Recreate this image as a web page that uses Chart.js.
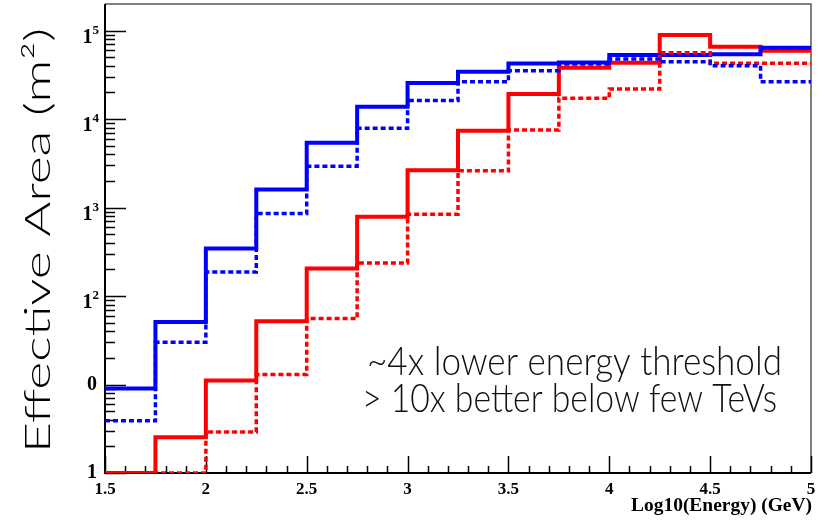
<!DOCTYPE html>
<html>
<head>
<meta charset="utf-8">
<script src="https://cdn.jsdelivr.net/npm/chart.js@4.4.0/dist/chart.umd.min.js"></script>
<style>
  html, body { margin: 0; padding: 0; background: #fff; }
  #wrap { width: 827px; height: 526px; }
</style>
</head>
<body>
<div id="wrap"><canvas id="effArea" width="827" height="526"></canvas></div>
<script>
// histogram bins (lower edge, log10 E/GeV), all 0.25 wide
const binEdges = [1.5, 1.75, 2.0, 2.25, 2.5, 2.75, 3.0, 3.25, 3.5, 3.75, 4.0, 4.25, 4.5, 4.75];
const binWidth = 0.25;

// effective area in m^2
const blueSolid  = [9.0, 51, 345, 1600, 5400, 13800, 25600, 34400, 42500, 43700, 53000, 53000, 54000, 64000];
const blueDotted = [3.9, 30, 187, 860, 2940, 7860, 16200, 26500, 35300, 42000, 47800, 44600, 40200, 26500];
const redSolid   = [1, 2.54, 11.1, 52, 205, 790, 2650, 7400, 19200, 38000, 43400, 89400, 65900, 59400];
const redDotted  = [1, 1, 2.9, 13, 55.6, 237, 843, 2600, 7520, 17200, 21900, 56400, 42800, 42800];

const xTicks = [1.5, 2, 2.5, 3, 3.5, 4, 4.5, 5];
const xTickLabels = ['1.5', '2', '2.5', '3', '3.5', '4', '4.5', '5'];
const yTicks = [1, 10, 100, 1000, 10000, 100000];
const yTickLabels = ['1', '0', '1^2', '1^3', '1^4', '1^5'];

const xTitle = 'Log10(Energy) (GeV)';
const yTitle = 'Effective Area (m\u00b2)';
const noteLines = ['~4x lower energy threshold', '> 10x better below few TeVs'];

// bins -> step points, closing the last bin at its upper edge
function steps(vals){
  const pts = binEdges.map((x, i) => ({ x: x, y: vals[i] }));
  pts.push({ x: binEdges[binEdges.length - 1] + binWidth, y: vals[vals.length - 1] });
  return pts;
}

function hist(vals, color, dotted){
  return {
    data: steps(vals),
    borderColor: color,
    borderWidth: dotted ? 3.5 : 4,
    borderDash: dotted ? [5, 3] : [],
    borderCapStyle: 'butt',
    borderJoinStyle: 'miter',
    stepped: 'before',   // hold bin value until next edge, then jump
    pointRadius: 0,
    fill: false
  };
}

// draws text squeezed/stretched along its baseline to a given length
function fitText(c, text, x, y, width, font, align){
  c.save();
  c.font = font;
  const w = c.measureText(text).width;
  c.translate(x, y);
  c.scale(width / w, 1);
  c.textAlign = align;
  c.textBaseline = 'alphabetic';
  c.fillText(text, 0, 0);
  c.restore();
}

// ROOT-style frame: inward ticks, serif labels
const rootAxes = {
  id: 'rootAxes',
  beforeDatasetsDraw(chart){
    const c = chart.ctx, a = chart.chartArea;
    const xs = chart.scales.x, ys = chart.scales.y;
    c.save();
    // top / right frame
    c.strokeStyle = '#555';
    c.lineWidth = 1.5;
    c.beginPath();
    c.moveTo(a.left, a.top); c.lineTo(a.right, a.top); c.lineTo(a.right, a.bottom);
    c.stroke();

    c.strokeStyle = '#000';
    c.lineWidth = 2;
    c.beginPath();
    c.moveTo(a.left, a.top); c.lineTo(a.left, a.bottom); c.lineTo(a.right, a.bottom);
    c.stroke();

    // x ticks every 0.1, long at 0.5
    c.lineWidth = 1.5;
    c.beginPath();
    for(let k = 15; k <= 50; k++){
      const px = Math.round(xs.getPixelForValue(k / 10)) + 0.5;
      const len = k % 5 === 0 ? 17 : 7;
      c.moveTo(px, a.bottom); c.lineTo(px, a.bottom - len);
    }
    c.stroke();

    // y ticks: decades long, 2..9 short
    c.beginPath();
    yTicks.forEach(d => {
      for(let m = 1; m <= 9; m++){
        const v = m * d;
        if(v >= ys.max) break;
        const py = Math.round(ys.getPixelForValue(v)) + 0.5;
        c.moveTo(a.left, py); c.lineTo(a.left + (m === 1 ? 21 : 10), py);
      }
    });
    c.stroke();

    // tick labels
    c.fillStyle = '#000';
    c.textAlign = 'center';
    c.textBaseline = 'alphabetic';
    c.font = 'bold 17px "Liberation Serif"';
    xTicks.forEach((v, i) => c.fillText(xTickLabels[i], xs.getPixelForValue(v), 494));

    yTicks.forEach((v, i) => {
      const py = ys.getPixelForValue(v);
      const parts = yTickLabels[i].split('^');
      c.textAlign = 'right';
      if(parts.length > 1){
        c.font = 'bold 13px "Liberation Serif"';
        c.fillText(parts[1], 99, py + 3);
        const ew = c.measureText(parts[1]).width;
        c.font = 'bold 20px "Liberation Serif"';
        c.fillText(parts[0], 99 - ew, py + 12);
      } else {
        c.font = 'bold 20px "Liberation Serif"';
        c.fillText(parts[0], 97, py + 5);
      }
    });
    c.restore();
  },
  afterDraw(chart){
    const c = chart.ctx;
    c.save();
    c.fillStyle = '#000';
    fitText(c, xTitle, 812, 511, 181, 'bold 19px "Liberation Serif"', 'right');

    c.translate(50, 240.5);
    c.rotate(-Math.PI / 2);
    fitText(c, yTitle, 0, 0, 425, '300 35px Lato', 'center');
    c.restore();

    c.save();
    c.fillStyle = '#111';
    fitText(c, noteLines[0], 367, 375, 415, '300 39px Lato', 'left');
    fitText(c, noteLines[1], 362, 412, 415, '300 39px Lato', 'left');
    c.restore();
  }
};

new Chart(document.getElementById('effArea'), {
  type: 'line',
  data: {
    datasets: [
      hist(blueDotted, '#0000ff', true),
      hist(redDotted, '#ff0000', true),
      hist(blueSolid, '#0000ff', false),
      hist(redSolid, '#ff0000', false)
    ]
  },
  options: {
    responsive: false,
    animation: false,
    devicePixelRatio: 1,
    layout: { padding: { left: 105, right: 16, top: 4, bottom: 53 } },
    plugins: { legend: { display: false }, tooltip: { enabled: false } },
    scales: {
      x: { type: 'linear', min: 1.5, max: 5, display: false },
      y: { type: 'logarithmic', min: 1, max: 200000, display: false }
    }
  },
  plugins: [rootAxes]
});
</script>
</body>
</html>
